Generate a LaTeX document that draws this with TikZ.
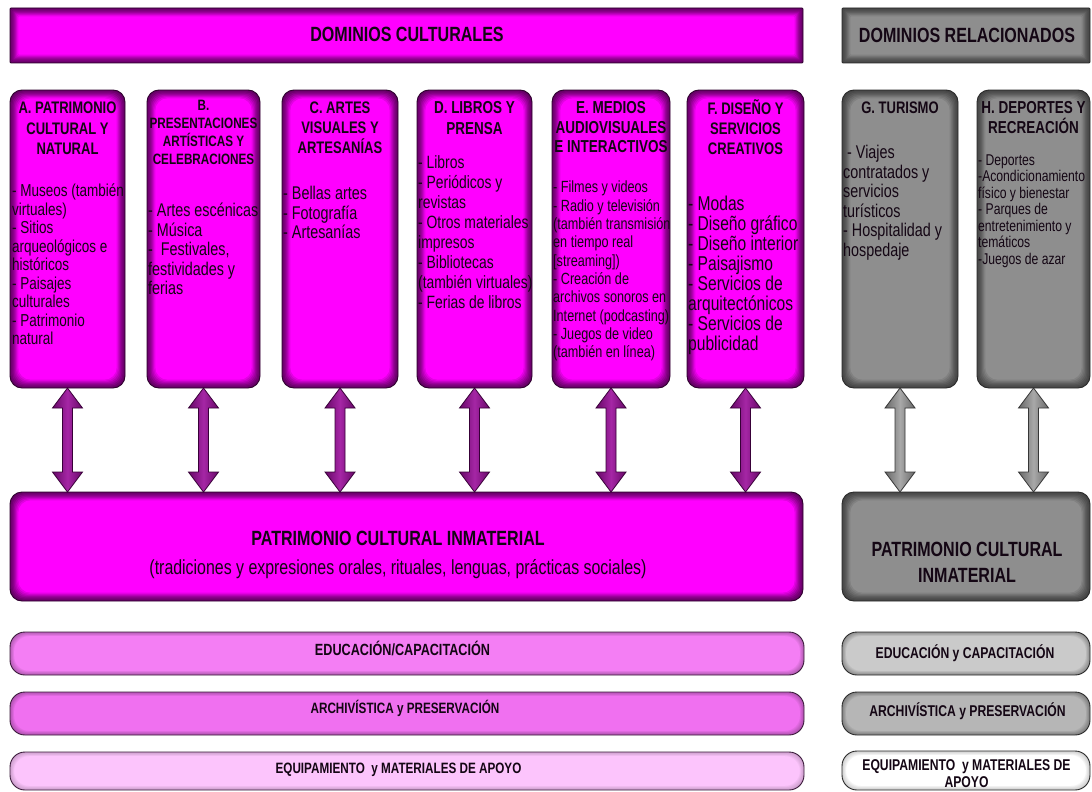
\documentclass[tikz,border=0pt]{standalone}
\usepackage{fontspec}
\setmainfont{Liberation Sans}[FakeStretch=0.78]
\usetikzlibrary{calc}
\definecolor{mag}{HTML}{FF00FF}
\definecolor{magdark}{HTML}{640064}
\definecolor{magedge}{HTML}{2E002E}
\definecolor{grayface}{HTML}{8E8E8E}
\definecolor{grayshadow}{HTML}{454545}
\definecolor{grayedge}{HTML}{2A2A2A}
\definecolor{stripA}{HTML}{F47EF4}
\definecolor{stripB}{HTML}{F070F0}
\definecolor{stripC}{HTML}{FCC4FC}
\colorlet{stripAs}{stripA!75!black}
\colorlet{stripBs}{stripB!75!black}
\colorlet{stripCs}{stripC!82!black}
\definecolor{gstripA}{HTML}{CACACA}
\definecolor{gstripB}{HTML}{B6B6B6}
\definecolor{gstripC}{HTML}{FFFFFF}
\colorlet{gstripAs}{gstripA!72!black}
\colorlet{gstripBs}{gstripB!72!black}
\colorlet{gstripCs}{gstripC!82!black}
\definecolor{stripedge}{HTML}{3A1A3A}
\definecolor{arrowmid}{HTML}{A526A5}
\definecolor{arrowside}{HTML}{680868}
\definecolor{arrowedge}{HTML}{380038}
\definecolor{garrowmid}{HTML}{A8A8A8}
\definecolor{garrowside}{HTML}{686868}
\definecolor{garrowedge}{HTML}{363636}
\definecolor{ink}{HTML}{140614}
\newcommand\fsz[2]{\fontsize{#1pt}{#2pt}\selectfont}
\newcommand\dualarrow[3]{%
  \draw[#3] (#1.south) -- ++(15,20) -- ++(-10,0)
    -- ($(#1.south |- #2.north)+(5,-20)$) -- ++(10,0)
    -- (#1.south |- #2.north) -- ++(-15,-20) -- ++(10,0)
    -- ($(#1.south)+(-5,20)$) -- ++(-10,0) -- cycle;}
\tikzset{
  bevel/.style n args={5}{draw=#1, line width=0.9pt, fill=#2, rounded corners=#4,
    inner sep=0pt, outer sep=0pt, anchor=north west,
    path picture={
      \foreach \k/\m in {1/8,2/20,3/34,4/50,5/66,6/82,7/100}{
        \fill[#3!\m!#2, rounded corners=#4]
          ($(path picture bounding box.north west)+(\k*#5,\k*#5)$) rectangle
          ($(path picture bounding box.south east)+(-\k*#5,-\k*#5)$);
      }}},
  dombox/.style={bevel={magedge}{magdark}{mag}{12pt}{1.2}},
  magbar/.style={bevel={magedge}{magdark}{mag}{1pt}{1.2}},
  graybox/.style={bevel={grayedge}{grayshadow}{grayface}{12pt}{1.2}},
  graybar/.style={bevel={grayedge}{grayshadow}{grayface}{1pt}{1.2}},
  strip/.style={bevel={stripedge}{#1s}{#1}{15pt}{0.6}},
  gstrip/.style={bevel={grayedge}{#1s}{#1}{15pt}{0.6}},
  head/.style={align=center, inner sep=0pt, text=ink, anchor=north},
  body/.style={align=left, inner sep=0pt, text=ink, anchor=north west},
  lbl/.style={inner sep=0pt, text=ink, anchor=base},
  parrow/.style={draw=arrowedge, line width=0.8pt, line join=miter,
    left color=arrowside, right color=arrowside, middle color=arrowmid},
  garrow/.style={draw=garrowedge, line width=0.8pt, line join=miter,
    left color=garrowside, right color=garrowside, middle color=garrowmid},
}
\begin{document}
\begin{tikzpicture}[x=1pt,y=-1pt]
\path[use as bounding box, fill=white] (0,0) rectangle (1092,792);

% top bars
\node[magbar, minimum width=793pt, minimum height=55pt] (DC) at (10,8) {};
\node[graybar, minimum width=248pt, minimum height=55pt] (DR) at (842,8) {};
\node[lbl, font=\bfseries\fsz{20.6}{24}] (DCt) at (407,41.9) {DOMINIOS CULTURALES};
\node[lbl, font=\bfseries\fsz{20.6}{24}] (DRt) at (967,42.4) {DOMINIOS RELACIONADOS};

% domain boxes
\node[dombox, minimum width=115pt, minimum height=298pt] (A) at (10,90) {};
\node[dombox, minimum width=113pt, minimum height=298pt] (B) at (147,90) {};
\node[dombox, minimum width=116pt, minimum height=298pt] (C) at (282,90) {};
\node[dombox, minimum width=115pt, minimum height=298pt] (D) at (417,90) {};
\node[dombox, minimum width=118pt, minimum height=298pt] (E) at (552,90) {};
\node[dombox, minimum width=117pt, minimum height=298pt] (F) at (687,90) {};
\node[graybox, minimum width=116pt, minimum height=298pt] (G) at (842,90) {};
\node[graybox, minimum width=113pt, minimum height=298pt] (H) at (977,90) {};

% intangible heritage boxes
\node[dombox, minimum width=793pt, minimum height=109pt] (P) at (10,492) {};
\node[graybox, minimum width=248pt, minimum height=109pt] (Q) at (842,492) {};

% arrows
\dualarrow{A}{P}{parrow}
\dualarrow{B}{P}{parrow}
\dualarrow{C}{P}{parrow}
\dualarrow{D}{P}{parrow}
\dualarrow{E}{P}{parrow}
\dualarrow{F}{P}{parrow}
\dualarrow{G}{Q}{garrow}
\dualarrow{H}{Q}{garrow}

% strips
\node[strip=stripA, minimum width=794pt, minimum height=43pt] (S1) at (10,632) {};
\node[strip=stripB, minimum width=794pt, minimum height=43pt] (S2) at (10,692) {};
\node[strip=stripC, minimum width=794pt, minimum height=38pt] (S3) at (10,752) {};
\node[gstrip=gstripA, minimum width=248pt, minimum height=43pt] (T1) at (842,632) {};
\node[gstrip=gstripB, minimum width=248pt, minimum height=43pt] (T2) at (842,692) {};
\node[gstrip=gstripC, minimum width=248pt, minimum height=39pt] (T3) at (842,751) {};

% box texts
\node[head, font=\bfseries\fsz{16.7}{20.5}] (Ah) at ($(A.north)+(0,11.8)$) {A. PATRIMONIO\\CULTURAL Y\\NATURAL};
\node[body, font=\fsz{17.3}{18.5}] (Ab) at ($(A.north west)+(2,93.6)$) {- Museos (también\\virtuales)\\- Sitios\\arqueológicos e\\históricos\\- Paisajes\\culturales\\- Patrimonio\\natural};

\node[head, font=\bfseries\fsz{15}{18}] (Bh) at ($(B.north)+(0,9.5)$) {B.\\PRESENTACIONES\\ARTÍSTICAS Y\\CELEBRACIONES};
\node[body, font=\fsz{18.4}{19.5}] (Bb) at ($(B.north west)+(1,113.2)$) {- Artes escénicas\\- Música\\- \ Festivales,\\festividades y\\ferias};

\node[head, font=\bfseries\fsz{16.7}{20}] (Ch) at ($(C.north)+(0,11.8)$) {C. ARTES\\VISUALES Y\\ARTESANÍAS};
\node[body, font=\fsz{18.4}{19.5}] (Cb) at ($(C.north west)+(1,96.2)$) {- Bellas artes\\- Fotografía\\- Artesanías};

\node[head, font=\bfseries\fsz{17.3}{21}] (Dh) at ($(D.north)+(0,11.6)$) {D. LIBROS Y\\PRENSA};
\node[body, font=\fsz{17.8}{20}] (Db) at ($(D.north west)+(1,65.4)$) {- Libros\\- Periódicos y\\revistas\\- Otros materiales\\impresos\\- Bibliotecas\\(también virtuales)\\- Ferias de libros};

\node[head, font=\bfseries\fsz{17.3}{19.5}] (Eh) at ($(E.north)+(0,11.6)$) {E. MEDIOS\\AUDIOVISUALES\\E INTERACTIVOS};
\node[body, font=\fsz{16.2}{18.3}] (Eb) at ($(E.north west)+(1,91)$) {- Filmes y videos\\- Radio y televisión\\(también transmisión\\en tiempo real\\{[}streaming{]})\\- Creación de\\archivos sonoros en\\Internet (podcasting)\\- Juegos de video\\(también en línea)};

\node[head, font=\bfseries\fsz{16.7}{20}] (Fh) at ($(F.north)+(0,9.8)$) {F. DISEÑO Y\\SERVICIOS\\CREATIVOS};
\node[body, font=\fsz{20}{20}] (Fb) at ($(F.north west)+(1,105.6)$) {- Modas\\- Diseño gráfico\\- Diseño interior\\- Paisajismo\\- Servicios de\\arquitectónicos\\- Servicios de\\publicidad};

\node[head, font=\bfseries\fsz{16.7}{20}] (Gh) at ($(G.north)+(0,11.8)$) {G. TURISMO};
\node[body, font=\fsz{18.4}{19.5}] (Gb) at ($(G.north west)+(1,55.2)$) {\ - Viajes\\contratados y\\servicios\\turísticos\\- Hospitalidad y\\hospedaje};

\node[head, font=\bfseries\fsz{17.3}{20}] (Hh) at ($(H.north)+(0,11.6)$) {H. DEPORTES Y\\RECREACIÓN};
\node[body, font=\fsz{15.6}{16.5}] (Hb) at ($(H.north west)+(1,64.2)$) {- Deportes\\-Acondicionamiento\\físico y bienestar\\- Parques de\\entretenimiento y\\temáticos\\-Juegos de azar};

% intangible heritage texts
\node[head, font=\bfseries\fsz{20.6}{29}] (Pt) at (398,531.4) {PATRIMONIO CULTURAL INMATERIAL\\{\mdseries\fsz{20.4}{29}(tradiciones y expresiones orales, rituales, lenguas, prácticas sociales)}};
\node[head, font=\bfseries\fsz{20.6}{26}] (Qt) at (967,542.4) {PATRIMONIO CULTURAL\\INMATERIAL};

% strip texts
\node[lbl, font=\bfseries\fsz{16.2}{19}] (S1t) at (402.5,655.8) {EDUCACIÓN/CAPACITACIÓN};
\node[lbl, font=\bfseries\fsz{15}{19}] (S2t) at (405,713.4) {ARCHIVÍSTICA y PRESERVACIÓN};
\node[lbl, font=\bfseries\fsz{15}{19}] (S3t) at (398.5,773.4) {EQUIPAMIENTO \ y MATERIALES DE APOYO};
\node[lbl, font=\bfseries\fsz{15.6}{19}] (T1t) at (965,658.6) {EDUCACIÓN y CAPACITACIÓN};
\node[lbl, font=\bfseries\fsz{15.6}{19}] (T2t) at (967.5,716.6) {ARCHIVÍSTICA y PRESERVACIÓN};
\node[head, font=\bfseries\fsz{15.6}{17}] (T3t) at (966.5,759.2) {EQUIPAMIENTO \ y MATERIALES DE\\APOYO};
\end{tikzpicture}
\end{document}
